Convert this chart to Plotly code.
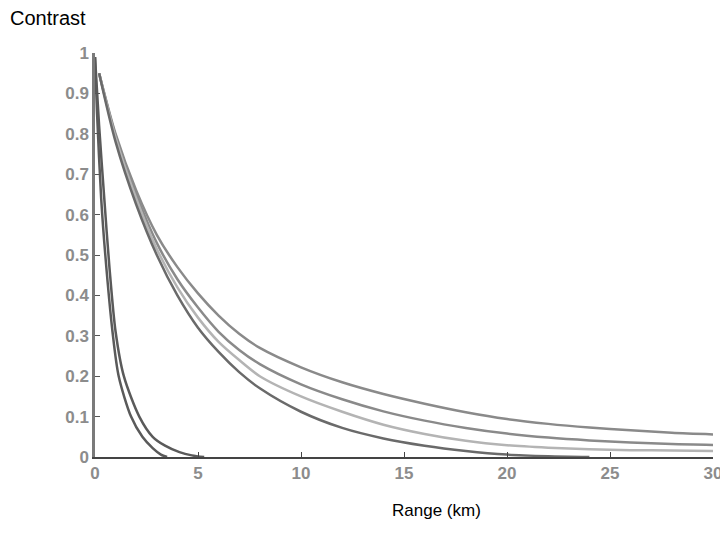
import plotly.graph_objects as go

# Steep curves (dark)
s1_x = [0, 0.1, 0.3, 0.5, 0.85, 1.15, 1.75, 2.3, 2.8, 3.2, 3.5]
s1_y = [0.99, 0.85, 0.64, 0.50, 0.31, 0.20, 0.10, 0.05, 0.022, 0.006, 0.0]
s2_x = [0, 0.2, 0.45, 0.7, 1.0, 1.4, 2.15, 2.8, 3.4, 4.1, 4.7, 5.3]
s2_y = [0.99, 0.82, 0.64, 0.47, 0.31, 0.20, 0.10, 0.05, 0.028, 0.012, 0.004, 0.0]

# Gradual curves
g_x = [0.2, 1, 2, 3, 4, 5, 6, 7, 8, 10, 12, 14, 16, 18, 20, 22, 24, 26, 28, 30]
a_y = [0.95, 0.80, 0.66, 0.55, 0.47, 0.405, 0.35, 0.305, 0.27, 0.222, 0.185, 0.156, 0.132, 0.111, 0.094, 0.082, 0.073, 0.066, 0.06, 0.056]
b_y = [0.95, 0.795, 0.65, 0.53, 0.44, 0.37, 0.31, 0.265, 0.23, 0.18, 0.143, 0.113, 0.09, 0.072, 0.058, 0.048, 0.041, 0.036, 0.032, 0.03]
c_y = [0.95, 0.79, 0.64, 0.515, 0.42, 0.345, 0.285, 0.24, 0.20, 0.15, 0.112, 0.08, 0.057, 0.04, 0.029, 0.023, 0.019, 0.017, 0.016, 0.015]
d_x = [0.2, 1, 2, 3, 4, 5, 6, 7, 8, 10, 12, 14, 16, 18, 20, 22, 24]
d_y = [0.95, 0.78, 0.625, 0.50, 0.40, 0.32, 0.26, 0.21, 0.17, 0.112, 0.072, 0.046, 0.028, 0.015, 0.006, 0.002, 0.0]

x_ticks = [0, 5, 10, 15, 20, 25, 30]
y_ticks = [0, 0.1, 0.2, 0.3, 0.4, 0.5, 0.6, 0.7, 0.8, 0.9, 1]
y_labels = ["0", "0.1", "0.2", "0.3", "0.4", "0.5", "0.6", "0.7", "0.8", "0.9", "1"]

fig = go.Figure()
series = [
    (g_x, a_y, "#8a8a8a"),
    (g_x, b_y, "#8a8a8a"),
    (g_x, c_y, "#b4b4b4"),
    (d_x, d_y, "#6a6a6a"),
    (s1_x, s1_y, "#5a5a5a"),
    (s2_x, s2_y, "#5a5a5a"),
]
for xs, ys, col in series:
    fig.add_trace(go.Scatter(x=xs, y=ys, mode="lines",
                             line=dict(color=col, width=2.5, shape="spline", smoothing=0.8),
                             showlegend=False, hoverinfo="skip"))

tick_font = dict(family="Liberation Sans, Arial, sans-serif", size=17, color="#8c8c8c")

fig.update_layout(
    width=718, height=527,
    margin=dict(l=87, r=13, t=45, b=78),
    paper_bgcolor="white", plot_bgcolor="white",
    font=dict(family="Liberation Sans, Arial, sans-serif"),
    xaxis=dict(range=[0, 30], tickvals=x_ticks, ticktext=[f"<b>{v}</b>" for v in x_ticks],
               showgrid=False, zeroline=False, showline=True, linecolor="#444", linewidth=2,
               ticks="inside", ticklen=5, tickcolor="#444", tickfont=tick_font,
               ticklabeloverflow="allow", automargin=False),
    yaxis=dict(range=[0, 1], tickvals=y_ticks, ticktext=[f"<b>{t}</b>" for t in y_labels],
               showgrid=False, zeroline=False, showline=True, linecolor="#7a7a7a", linewidth=2.5,
               ticks="inside", ticklen=5, tickcolor="#555", tickfont=tick_font,
               automargin=False),
    annotations=[
        dict(text="Contrast", xref="paper", yref="paper", x=-0.141, y=1.087,
             xanchor="left", yanchor="middle", showarrow=False,
             font=dict(size=20, color="black")),
        dict(text="Range (km)", xref="paper", yref="paper", x=0.553, y=-0.133,
             xanchor="center", yanchor="middle", showarrow=False,
             font=dict(size=17, color="black")),
    ],
)

fig.write_html("out.html")
